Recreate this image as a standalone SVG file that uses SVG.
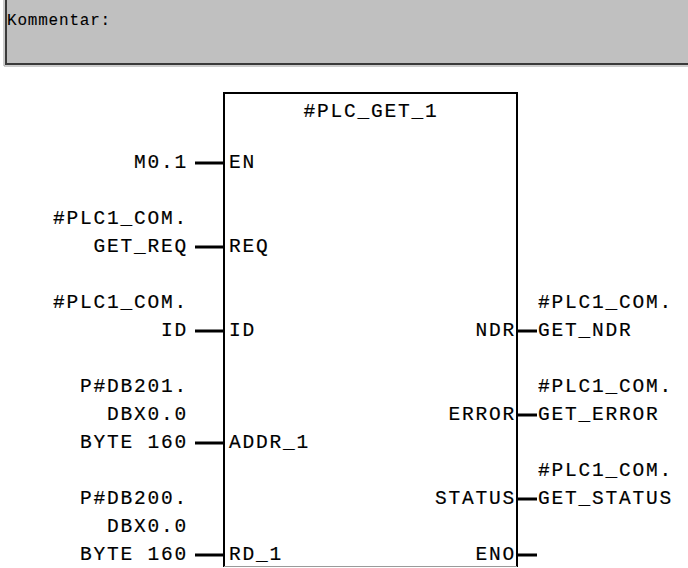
<svg xmlns="http://www.w3.org/2000/svg" width="688" height="568" viewBox="0 0 688 568">
  <style>
    text { font-family: "Liberation Mono", "DejaVu Sans Mono", monospace; fill: #000; stroke: #000; stroke-width: 0.18px; }
    .lbl { font-size: 19.5px; letter-spacing: 1.8px; }
    .end { text-anchor: end; }
    .cmt { font-size: 16px; letter-spacing: 0.8px; stroke-width: 0.1px; }
    .wire { stroke: #000; stroke-width: 3; fill: none; }
    .frame { stroke: #000; stroke-width: 2; fill: none; }
  </style>

  <rect width="688" height="568" fill="#fff"/>

  <!-- comment field -->
  <g id="comment">
    <rect x="6" y="-4" width="686" height="68" fill="#c0c0c0"/>
    <path d="M6,-4 V64 H692" stroke="#3a3a3a" stroke-width="2" fill="none"/>
    <path d="M4,-4 V66 H692" stroke="#9a9a9a" stroke-width="1" fill="none"/>
    <text class="cmt" x="7" y="25">Kommentar:</text>
  </g>

  <!-- function block -->
  <g id="block">
    <path class="frame" d="M224,567 V93 H517 V567"/>
    <line x1="224" y1="566.5" x2="517" y2="566.5" stroke="#9a9a9a" stroke-width="1"/>
    <text class="lbl" x="371" y="117" text-anchor="middle">#PLC_GET_1</text>
    <!-- inner pin names -->
    <text class="lbl" x="229" y="168">EN</text>
    <text class="lbl" x="229" y="252">REQ</text>
    <text class="lbl" x="229" y="336">ID</text>
    <text class="lbl" x="229" y="448">ADDR_1</text>
    <text class="lbl" x="229" y="560">RD_1</text>
    <text class="lbl end" x="516" y="336">NDR</text>
    <text class="lbl end" x="516" y="420">ERROR</text>
    <text class="lbl end" x="516" y="504">STATUS</text>
    <text class="lbl end" x="516" y="560">ENO</text>
  </g>

  <!-- pin wires -->
  <g id="connectors">
    <line class="wire" x1="195" y1="163" x2="224" y2="163"/>
    <line class="wire" x1="195" y1="247" x2="224" y2="247"/>
    <line class="wire" x1="195" y1="331" x2="224" y2="331"/>
    <line class="wire" x1="195" y1="443" x2="224" y2="443"/>
    <line class="wire" x1="195" y1="555" x2="224" y2="555"/>
    <line class="wire" x1="517" y1="331" x2="537" y2="331"/>
    <line class="wire" x1="517" y1="415" x2="537" y2="415"/>
    <line class="wire" x1="517" y1="499" x2="537" y2="499"/>
    <line class="wire" x1="517" y1="555" x2="537" y2="555"/>
  </g>

  <!-- actual parameters, inputs -->
  <g id="in-EN">
    <text class="lbl end" x="188" y="168">M0.1</text>
  </g>
  <g id="in-REQ">
    <text class="lbl end" x="188" y="224">#PLC1_COM.</text>
    <text class="lbl end" x="188" y="252">GET_REQ</text>
  </g>
  <g id="in-ID">
    <text class="lbl end" x="188" y="308">#PLC1_COM.</text>
    <text class="lbl end" x="188" y="336">ID</text>
  </g>
  <g id="in-ADDR_1">
    <text class="lbl end" x="188" y="392">P#DB201.</text>
    <text class="lbl end" x="188" y="420">DBX0.0</text>
    <text class="lbl end" x="188" y="448">BYTE 160</text>
  </g>
  <g id="in-RD_1">
    <text class="lbl end" x="188" y="504">P#DB200.</text>
    <text class="lbl end" x="188" y="532">DBX0.0</text>
    <text class="lbl end" x="188" y="560">BYTE 160</text>
  </g>

  <!-- actual parameters, outputs -->
  <g id="out-NDR">
    <text class="lbl" x="538" y="308">#PLC1_COM.</text>
    <text class="lbl" x="538" y="336">GET_NDR</text>
  </g>
  <g id="out-ERROR">
    <text class="lbl" x="538" y="392">#PLC1_COM.</text>
    <text class="lbl" x="538" y="420">GET_ERROR</text>
  </g>
  <g id="out-STATUS">
    <text class="lbl" x="538" y="476">#PLC1_COM.</text>
    <text class="lbl" x="538" y="504">GET_STATUS</text>
  </g>
</svg>
